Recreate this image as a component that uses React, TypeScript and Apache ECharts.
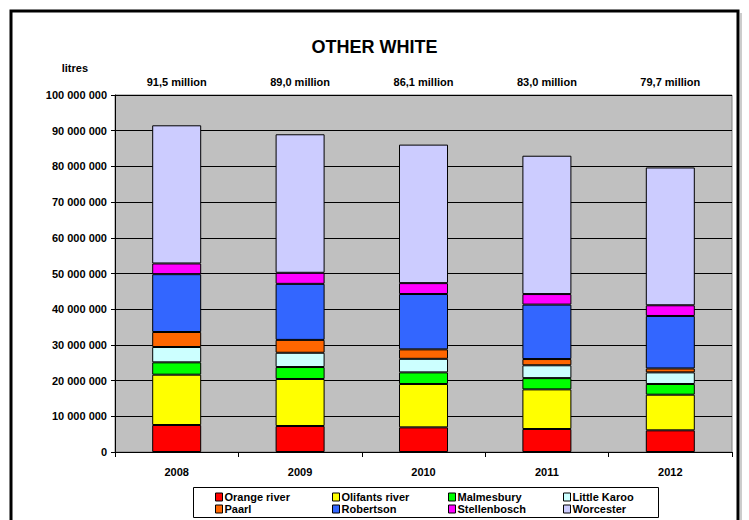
import React, { useEffect, useRef } from "react";
import * as echarts from "echarts";

const years = ["2008", "2009", "2010", "2011", "2012"];
const totalLabels = ["91,5 million", "89,0 million", "86,1 million", "83,0 million", "79,7 million"];

const orangeRiver = [7560000, 7280000, 6900000, 6440000, 6070000];
const olifantsRiver = [14100000, 13170000, 12150000, 11100000, 9980000];
const malmesbury = [3450000, 3350000, 3250000, 3150000, 3000000];
const littleKaroo = [4300000, 4000000, 3800000, 3600000, 3250000];
const paarl = [4200000, 3600000, 2650000, 1750000, 1100000];
const robertson = [16200000, 15700000, 15500000, 15250000, 14700000];
const stellenbosch = [3000000, 3100000, 3050000, 2950000, 3000000];
const worcester = [38700000, 38800000, 38800000, 38750000, 38600000];

const seriesDefs = [
  { name: "Orange river", data: orangeRiver, color: "#FF0000" },
  { name: "Olifants river", data: olifantsRiver, color: "#FFFF00" },
  { name: "Malmesbury", data: malmesbury, color: "#00FF00" },
  { name: "Little Karoo", data: littleKaroo, color: "#CCFFFF" },
  { name: "Paarl", data: paarl, color: "#FF6600" },
  { name: "Robertson", data: robertson, color: "#3366FF" },
  { name: "Stellenbosch", data: stellenbosch, color: "#FF00FF" },
  { name: "Worcester", data: worcester, color: "#CCCCFF" },
];

const legendColumns = [
  ["Orange river", "Paarl"],
  ["Olifants river", "Robertson"],
  ["Malmesbury", "Stellenbosch"],
  ["Little Karoo", "Worcester"],
];
const legendLefts = [215, 332, 448, 563];

const FONT = "'Liberation Sans', Arial, sans-serif";

function fmt(v: number): string {
  return String(v).replace(/\B(?=(\d{3})+(?!\d))/g, " ");
}

export default function App() {
  const ref = useRef<HTMLDivElement>(null);
  useEffect(() => {
    if (!ref.current) return;
    const chart = echarts.init(ref.current, null, { renderer: "svg" });
    chart.setOption({
      animation: false,
      backgroundColor: "#FFFFFF",
      textStyle: { fontFamily: FONT },
      title: {
        text: "OTHER WHITE",
        left: "center",
        top: 33,
        textStyle: { fontFamily: FONT, fontSize: 18, fontWeight: "bold", color: "#000" },
      },
      grid: {
        left: 115,
        right: 17,
        top: 95,
        bottom: 68,
        show: true,
        backgroundColor: "#C0C0C0",
        borderColor: "#808080",
        borderWidth: 1,
        containLabel: false,
      },
      legend: legendColumns.map((col, i) => ({
        data: col,
        orient: "vertical",
        left: legendLefts[i],
        top: 491,
        padding: 0,
        itemGap: 0,
        itemWidth: 7,
        itemHeight: 8,
        icon: "rect",
        selectedMode: false,
        itemStyle: { borderColor: "#000", borderWidth: 1 },
        textStyle: {
          fontFamily: FONT,
          fontSize: 11,
          fontWeight: "bold",
          color: "#000",
          lineHeight: 12,
          padding: [0, 0, 0, -3],
        },
      })),
      xAxis: [
        {
          type: "category",
          data: years,
          position: "bottom",
          axisLine: { show: true, lineStyle: { color: "#000", width: 1 } },
          axisTick: { show: true, length: 5, lineStyle: { color: "#000" } },
          axisLabel: {
            margin: 14,
            fontFamily: FONT,
            fontSize: 11,
            fontWeight: "bold",
            color: "#000",
          },
        },
        {
          type: "category",
          data: totalLabels,
          position: "top",
          axisLine: { show: false },
          axisTick: { show: false },
          splitLine: { show: false },
          axisLabel: {
            margin: 8,
            fontFamily: FONT,
            fontSize: 11,
            fontWeight: "bold",
            color: "#000",
          },
        },
      ],
      yAxis: {
        type: "value",
        min: 0,
        max: 100000000,
        interval: 10000000,
        name: "litres",
        nameLocation: "end",
        nameGap: 22,
        nameTextStyle: {
          fontFamily: FONT,
          fontSize: 11,
          fontWeight: "bold",
          color: "#000",
          align: "right",
          padding: [0, 27, 0, 0],
        },
        axisLine: { show: true, lineStyle: { color: "#000", width: 1 } },
        axisTick: { show: true, length: 4, lineStyle: { color: "#000" } },
        splitLine: { show: true, lineStyle: { color: "#000", width: 1 } },
        axisLabel: {
          margin: 8,
          fontFamily: FONT,
          fontSize: 11,
          fontWeight: "bold",
          color: "#000",
          formatter: (v: number) => fmt(v),
        },
      },
      series: seriesDefs.map((s) => ({
        name: s.name,
        type: "bar",
        stack: "total",
        xAxisIndex: 0,
        barWidth: 49,
        data: s.data,
        itemStyle: { color: s.color, borderColor: "#000", borderWidth: 1 },
        emphasis: { disabled: true },
      })),
      graphic: [
        {
          type: "rect",
          shape: { x: 11, y: 11, width: 727, height: 520 },
          style: { fill: "none", stroke: "#000", lineWidth: 3 },
          silent: true,
          z: 100,
        },
        {
          type: "line",
          shape: { x1: 741, y1: 13, x2: 741, y2: 520 },
          style: { stroke: "#999", lineWidth: 1 },
          silent: true,
        },
        {
          type: "rect",
          shape: { x: 193.5, y: 487.5, width: 465, height: 30 },
          style: { fill: "none", stroke: "#000", lineWidth: 1 },
          silent: true,
        },
      ],
    });
    return () => chart.dispose();
  }, []);
  return (
    <div
      ref={ref}
      style={{ position: "fixed", left: 0, top: 0, width: 749, height: 520 }}
    />
  );
}
